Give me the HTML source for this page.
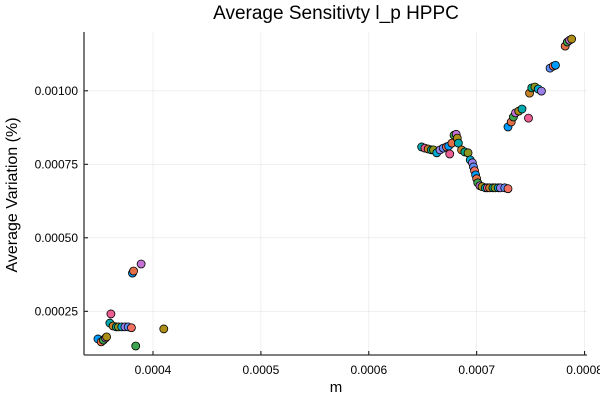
<!DOCTYPE html>
<html><head><meta charset="utf-8"><style>
html,body{margin:0;padding:0;background:#fff}
svg{display:block;font-family:"Liberation Sans","DejaVu Sans",sans-serif}
</style></head><body>
<svg id="chart" width="600" height="400">
<rect width="600" height="400" fill="#fff"/>
<g id="grid"></g>
<g id="axes"></g>
<g id="points"></g>
<text x="336" y="19" text-anchor="middle" font-size="19" fill="#000">Average Sensitivty l_p HPPC</text>
<text x="336" y="392" text-anchor="middle" font-size="15" fill="#000">m</text>
<text transform="translate(17,195) rotate(-90)" text-anchor="middle" font-size="16" fill="#000">Average Variation (%)</text>
</svg>
<script>
const xTicks=[0.0004,0.0005,0.0006,0.0007,0.0008];
const xTickLabels=["0.0004","0.0005","0.0006","0.0007","0.0008"];
const yTicks=[0.00025,0.0005,0.00075,0.001];
const yTickLabels=["0.00025","0.00050","0.00075","0.00100"];
const mValues=[0.000349,0.000352,0.000354,0.000356,0.000357,0.000360,0.000361,0.000363,0.000366,0.000368,0.000371,0.000374,0.000377,0.000380,0.000381,0.000382,0.000384,0.000389,0.000410,
0.000649,0.000652,0.000655,0.000658,0.000660,0.000663,0.000666,0.000669,0.000672,0.000674,0.000677,0.000679,0.000681,0.000682,0.000683,0.000675,0.000686,0.000689,0.000692,0.000694,0.000696,0.000697,0.000698,0.000699,0.000700,0.000701,0.000703,0.000705,0.000708,0.000710,0.000712,0.000715,0.000717,0.000720,0.000722,0.000726,0.000729,
0.000729,0.000732,0.000734,0.000736,0.000739,0.000742,0.000748,0.000749,0.000751,0.000754,0.000757,0.000760,0.000768,0.000771,0.000773,0.000782,0.000784,0.000786,0.000788];
const variation=[0.000156,0.000146,0.000152,0.000159,0.000163,0.000210,0.000241,0.000200,0.000197,0.000197,0.000197,0.000197,0.000197,0.000194,0.000380,0.000387,0.000132,0.000411,0.000190,
0.000809,0.000805,0.000802,0.000799,0.000799,0.000789,0.000799,0.000805,0.000809,0.000812,0.000822,0.000849,0.000852,0.000839,0.000822,0.000785,0.000799,0.000792,0.000789,0.000765,0.000755,0.000741,0.000728,0.000714,0.000701,0.000687,0.000677,0.000674,0.000670,0.000670,0.000670,0.000670,0.000670,0.000670,0.000670,0.000670,0.000667,
0.000877,0.000894,0.000911,0.000925,0.000931,0.000938,0.000907,0.000992,0.001010,0.001013,0.001006,0.000999,0.001077,0.001084,0.001087,0.001152,0.001166,0.001172,0.001176];
const palette=["#009AFA","#E36F47","#3EA44E","#C371D2","#AC8E18","#00AAAE","#ED5E93","#C68225","#00A98D","#8E971D","#00A9CD","#9B7FE8","#618DF6","#F07062"];
const L=84,R=587,T=32,B=355;
function xs(m){return 153+(m-0.0004)/0.0001*107.9;}
function ys(v){return 311.3-(v-0.00025)/0.00025*73.5;}
const NS="http://www.w3.org/2000/svg";
const grid=document.getElementById('grid'),axes=document.getElementById('axes'),pts=document.getElementById('points');
function mk(tag,attrs,parent){const e=document.createElementNS(NS,tag);for(const k in attrs)e.setAttribute(k,attrs[k]);parent.appendChild(e);return e;}
xTicks.forEach((t,i)=>{const x=xs(t);
 const g=mk('line',{x1:x,x2:x,y1:T,y2:B,stroke:'#000','stroke-opacity':0.1,'stroke-width':0.6},grid);
 
 
 const tk=mk('line',{x1:x,x2:x,y1:B,y2:B-4,stroke:'#000','stroke-width':1},axes);
 
 
 const tx=mk('text',{x:x,y:B+19,'text-anchor':'middle','font-size':12,fill:'#000'},axes);tx.textContent=xTickLabels[i];
 
 
});
yTicks.forEach((t,i)=>{const y=ys(t);
 const g=mk('line',{x1:L,x2:R,y1:y,y2:y,stroke:'#000','stroke-opacity':0.1,'stroke-width':0.6},grid);
 
 
 const tk=mk('line',{x1:L,x2:L+4,y1:y,y2:y,stroke:'#000','stroke-width':1},axes);
 
 
 const tx=mk('text',{x:L-6,y:y+4,'text-anchor':'end','font-size':12,fill:'#000'},axes);tx.textContent=yTickLabels[i];
 
 
});
const ax1=mk('line',{x1:L,x2:L,y1:T,y2:B,stroke:'#333','stroke-width':1.3},axes);


const ax2=mk('line',{x1:L,x2:R,y1:B,y2:B,stroke:'#333','stroke-width':1.3},axes);


mValues.forEach((m,i)=>{
 const c=mk('circle',{cx:xs(m),cy:ys(variation[i]),r:4,fill:palette[i%palette.length],stroke:'#000','stroke-width':0.8},pts);
 
 
});
</script>
</body></html>
